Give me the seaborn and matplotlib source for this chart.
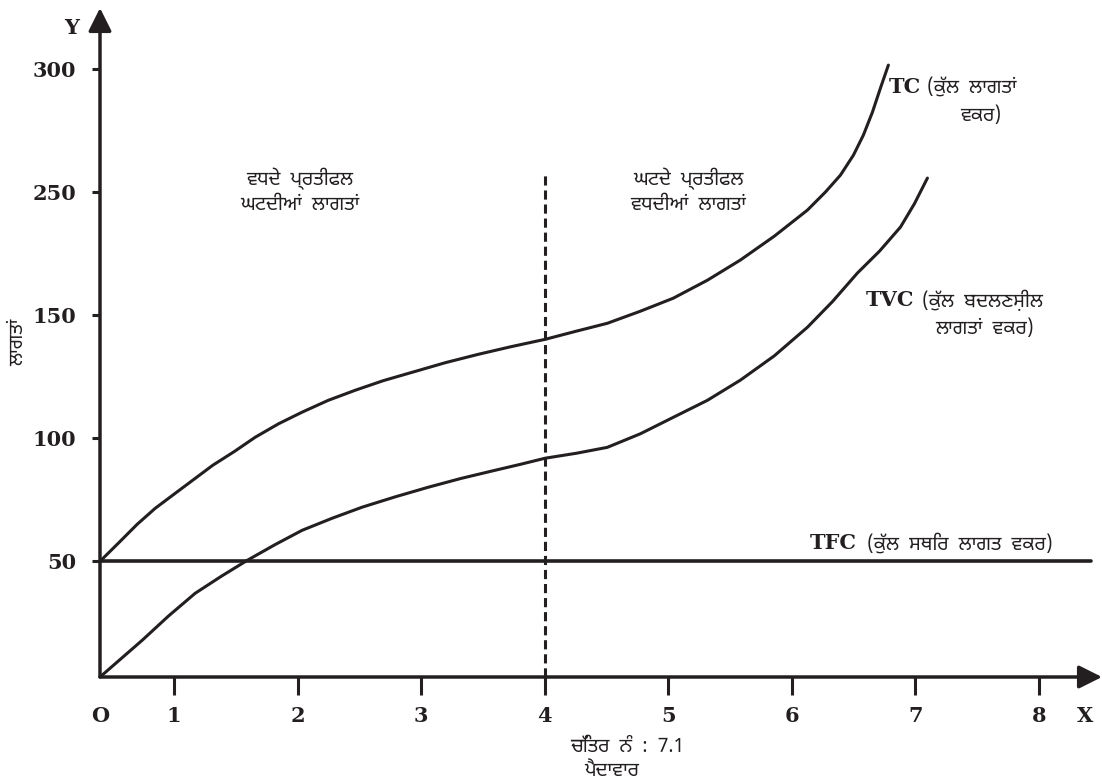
import matplotlib
matplotlib.use("Agg")
import matplotlib.pyplot as plt
import seaborn as sns
from matplotlib import font_manager
from matplotlib.ft2font import FT2Font

# output (label units) and cost values
tc_x = [0.40, 0.563, 0.700, 0.846, 1.008, 1.312, 1.490, 1.656, 1.846, 2.036, 2.247, 2.466, 2.693,
        2.927, 3.195, 3.462, 3.727, 4.004, 4.255, 4.506, 4.773, 5.040, 5.316, 5.583, 5.858,
        6.126, 6.271, 6.393, 6.498, 6.579, 6.652, 6.717, 6.781]
tc_y = [50, 58.1, 65.0, 71.5, 77.6, 89.0, 94.7, 100.4, 105.9, 110.6, 115.4, 119.5, 123.4,
        126.8, 130.7, 134.1, 137.2, 140.2, 143.5, 146.7, 151.6, 156.9, 164.2, 172.4, 182.1,
        192.7, 200.0, 206.9, 215.0, 223.2, 232.5, 242.3, 251.6]

tvc_x = [0.40, 0.741, 0.955, 1.170, 1.381, 1.592, 1.814, 2.036, 2.279, 2.522, 2.790, 3.057, 3.324,
         3.599, 3.802, 4.004, 4.255, 4.506, 4.773, 5.040, 5.316, 5.583, 5.858, 6.126, 6.328,
         6.530, 6.709, 6.879, 6.992, 7.097]
tvc_y = [3, 17.9, 27.8, 37.0, 43.9, 50.4, 56.7, 62.6, 67.5, 72.0, 76.2, 80.1, 83.7,
         87.0, 89.4, 91.9, 93.9, 96.3, 101.8, 108.5, 115.4, 123.6, 133.5, 145.1, 155.5,
         167.1, 176.0, 185.8, 195.3, 205.7]

tfc_x = [0.40, 8.42]
tfc_y = [50, 50]

divide_x = 4
divide_top = 207

x_ticks = [0.4, 1, 2, 3, 4, 5, 6, 7, 8]
x_labels = ["O", "1", "2", "3", "4", "5", "6", "7", "8"]
y_ticks = [50, 100, 150, 200, 250]
y_labels = ["50", "100", "150", "250", "300"]

ink = "#231f20"


def gurmukhi_font():
    found = []
    for f in font_manager.fontManager.ttflist:
        try:
            if 0x0A32 in FT2Font(f.fname).get_charmap():
                found.append(f.name)
        except Exception:
            pass

    def rank(name):
        n = name.lower()
        if "mono" in n:
            return 5
        if "gurmukhi" in n and "sans" in n:
            return 0
        if "gurmukhi" in n:
            return 1
        if "sans" in n:
            return 2
        return 3
    found.sort(key=rank)
    return found[0] if found else None


sns.set_style("white")
gur = gurmukhi_font()
pun = [gur, "DejaVu Sans"] if gur else ["DejaVu Sans"]
plt.rcParams["font.family"] = pun
serif = ["DejaVu Serif"]

fig = plt.figure(figsize=(11.02, 7.81), dpi=100)
ax = fig.add_axes([100 / 1102, 104 / 781, 1002 / 1102, 669 / 781])
ax.set_xlim(0.4, 8.51)
ax.set_ylim(3, 274.8)
for s in ax.spines.values():
    s.set_visible(False)

sns.lineplot(x=tc_x, y=tc_y, ax=ax, color=ink, lw=2.2, sort=False, estimator=None)
sns.lineplot(x=tvc_x, y=tvc_y, ax=ax, color=ink, lw=2.2, sort=False, estimator=None)
sns.lineplot(x=tfc_x, y=tfc_y, ax=ax, color=ink, lw=2.6, sort=False, estimator=None)
ax.plot([divide_x, divide_x], [3, divide_top], color=ink, lw=2.2, ls=(0, (3, 1.6)))

# axes with arrow heads
arrow = dict(arrowstyle="-|>,head_length=1.0,head_width=0.5", lw=2.5, color=ink,
             shrinkA=0, shrinkB=0, mutation_scale=14)
ax.annotate("", xy=(8.51, 3), xytext=(0.4, 3), arrowprops=arrow, annotation_clip=False)
ax.annotate("", xy=(0.4, 274.8), xytext=(0.4, 3), arrowprops=arrow, annotation_clip=False)

ax.set_xticks(x_ticks)
ax.set_xticklabels(x_labels, fontfamily=serif, fontweight="bold", fontsize=15)
ax.set_yticks(y_ticks)
ax.set_yticklabels(y_labels, fontfamily=serif, fontweight="bold", fontsize=15)
ax.tick_params(axis="x", bottom=True, direction="out", length=13, width=2.2, color=ink, pad=8, labelcolor=ink)
ax.tick_params(axis="y", left=True, direction="out", length=6, width=2.2, color=ink, pad=11, labelcolor=ink)
ax.xaxis.get_major_ticks()[0].tick1line.set_visible(False)

fig.text(72 / 1102, 1 - 28 / 781, "Y", fontfamily=serif, fontweight="bold", fontsize=15,
         ha="center", va="center", color=ink)
fig.text(1085 / 1102, 1 - 716 / 781, "X", fontfamily=serif, fontweight="bold", fontsize=15,
         ha="center", va="center", color=ink)
fig.text(18 / 1102, 1 - 342 / 781, "ਲਾਗਤਾਂ", rotation=90, fontsize=14,
         ha="center", va="center", color=ink)
fig.text(627 / 1102, 1 - 747 / 781, "ਚਿੱਤਰ  ਨੰ  :  7.1", fontsize=14,
         ha="center", va="center", color=ink)
fig.text(612 / 1102, 1 - 771 / 781, "ਪੈਦਾਵਾਰ", fontsize=14,
         ha="center", va="center", color=ink)

fig.text(300 / 1102, 1 - 191 / 781, "ਵਧਦੇ  ਪ੍ਰਤੀਫਲ\nਘਟਦੀਆਂ  ਲਾਗਤਾਂ", fontsize=14,
         ha="center", va="center", color=ink, linespacing=1.35)
fig.text(688 / 1102, 1 - 191 / 781, "ਘਟਦੇ  ਪ੍ਰਤੀਫਲ\nਵਧਦੀਆਂ  ਲਾਗਤਾਂ", fontsize=14,
         ha="center", va="center", color=ink, linespacing=1.35)

fig.text(889 / 1102, 1 - 87 / 781, "TC", fontfamily=serif, fontweight="bold", fontsize=15,
         ha="left", va="center", color=ink)
fig.text(927 / 1102, 1 - 87 / 781, "(ਕੁੱਲ  ਲਾਗਤਾਂ", fontsize=14, ha="left", va="center", color=ink)
fig.text(960 / 1102, 1 - 115 / 781, "ਵਕਰ)", fontsize=14, ha="left", va="center", color=ink)

fig.text(866 / 1102, 1 - 300 / 781, "TVC", fontfamily=serif, fontweight="bold", fontsize=15,
         ha="left", va="center", color=ink)
fig.text(922 / 1102, 1 - 300 / 781, "(ਕੁੱਲ  ਬਦਲਣਸ਼ੀਲ", fontsize=14, ha="left", va="center", color=ink)
fig.text(935 / 1102, 1 - 328 / 781, "ਲਾਗਤਾਂ  ਵਕਰ)", fontsize=14, ha="left", va="center", color=ink)

fig.text(810 / 1102, 1 - 543 / 781, "TFC", fontfamily=serif, fontweight="bold", fontsize=15,
         ha="left", va="center", color=ink)
fig.text(867 / 1102, 1 - 543 / 781, "(ਕੁੱਲ  ਸਥਿਰ  ਲਾਗਤ  ਵਕਰ)", fontsize=14, ha="left", va="center", color=ink)

fig.savefig("out.png", dpi=100)
